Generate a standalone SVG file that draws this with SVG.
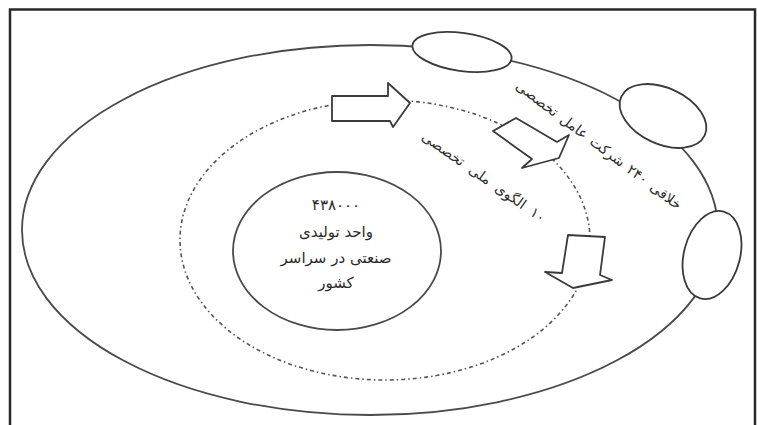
<svg xmlns="http://www.w3.org/2000/svg" width="757" height="425" viewBox="0 0 757 425">
<style>
.frame{fill:none;stroke:#2a2a2a;stroke-width:2.5}
.line{fill:none;stroke:#4a4a4a;stroke-width:1.8}
.node{fill:#fff;stroke:#3a3a3a;stroke-width:1.8}
.dots{fill:none;stroke:#555;stroke-width:1.6;stroke-dasharray:4 3 1.5 3}
.arrow{fill:#fff;stroke:#3a3a3a;stroke-width:1.8;stroke-linejoin:round}
.t{font-family:"DejaVu Sans","Noto Sans",sans-serif;fill:#2a2a2a;text-anchor:middle}
</style>
<rect x="0" y="0" width="757" height="425" fill="#fff"/>
<path class="frame" d="M10,425 V9.5 H755 V425"/>
<g id="connectors">
<ellipse class="line" cx="370" cy="230" rx="348" ry="185"/>
<ellipse class="dots" cx="385" cy="240" rx="205" ry="140"/>
</g>
<g id="node-top"><ellipse class="node" cx="462" cy="52" rx="50" ry="19" transform="rotate(8 462 52)"/></g>
<g id="node-mid"><ellipse class="node" cx="663" cy="116" rx="46" ry="28" transform="rotate(25 663 116)"/></g>
<g id="node-low"><ellipse class="node" cx="712" cy="255" rx="28" ry="45" transform="rotate(15 712 255)"/></g>
<g id="core">
<ellipse class="line" cx="337" cy="251" rx="104" ry="79"/>
<text class="t" x="336" y="210" font-size="15" letter-spacing="3">۴۳۸۰۰۰</text>
<text class="t" x="336" y="237" font-size="15">واحد تولیدی</text>
<text class="t" x="336" y="263" font-size="15">صنعتی در سراسر</text>
<text class="t" x="336" y="288" font-size="15">کشور</text>
</g>
<g id="arrow-1"><polygon class="arrow" points="332,96 388,96 388,83 410,103 393,127 390,121 332,121"/></g>
<g id="arrow-2"><polygon class="arrow" points="493,131 516,118 557,142 569,135 559,158 522,168 532,159"/></g>
<g id="arrow-3"><polygon class="arrow" points="568,235 605,237 600,275 612,280 573,288 545,272 562,273"/></g>
<g id="label-inner"><text class="t" font-size="14" word-spacing="4" direction="rtl" transform="translate(481,181) rotate(35)">۱۰ الگوی ملی تخصصی</text></g>
<g id="label-outer"><text class="t" font-size="14" word-spacing="2" direction="rtl" transform="translate(596,149) rotate(37)">خلاقی ۲۴۰ شرکت عامل تخصصی</text></g>
</svg>
